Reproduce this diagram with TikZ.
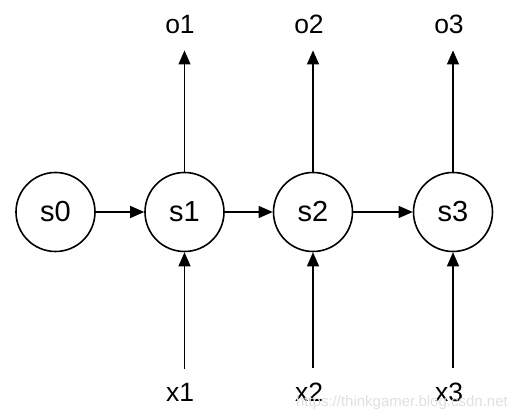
\documentclass[tikz,border=0pt]{standalone}
\usepackage{fontspec}
\setmainfont{Liberation Sans}
\usetikzlibrary{arrows.meta}

\tikzset{
  state/.style={draw, circle, line width=1.6pt, minimum size=79pt, inner sep=0pt, font=\fontsize{29}{32}\selectfont},
  lbl/.style={inner sep=0pt, anchor=base, font=\fontsize{26.5}{30}\selectfont},
  arr/.style={line width=1.3pt, -{Triangle[length=14pt, width=12pt]}}
}

\begin{document}
\begin{tikzpicture}[x=1pt, y=1pt]
    \useasboundingbox (0,0) rectangle (520,420);

    % 状态节点
    \node[state] (s0) at (55.5,208) {s0};
    \node[state] (s1) at (184.5,208) {s1};
    \node[state] (s2) at (313,208) {s2};
    \node[state] (s3) at (453,208) {s3};

    % 输出与输入
    \node[lbl] (o1) at (180,386) {o1};
    \node[lbl] (o2) at (309,386) {o2};
    \node[lbl] (o3) at (449,386) {o3};
    \node[lbl] (x1) at (180,18) {x1};
    \node[lbl] (x2) at (309,18) {x2};
    \node[lbl] (x3) at (449,18) {x3};

    % 状态之间
    \draw[arr] (s0) -- (s1);
    \draw[arr] (s1) -- (s2);
    \draw[arr] (s2) -- (s3);

    % 向上的输出
    \draw[arr, shorten >=16pt] (s1.north) -- (s1.north |- o1.south);
    \draw[arr, shorten >=16pt] (s2.north) -- (s2.north |- o2.south);
    \draw[arr, shorten >=16pt] (s3.north) -- (s3.north |- o3.south);

    % 向上的输入
    \draw[arr, shorten <=15pt] (s1.south |- x1.north) -- (s1.south);
    \draw[arr, shorten <=15pt] (s2.south |- x2.north) -- (s2.south);
    \draw[arr, shorten <=15pt] (s3.south |- x3.north) -- (s3.south);

    % 水印
    \node[inner sep=0pt, anchor=base east, text=black!12, font=\fontsize{15}{18}\selectfont] (wm) at (508,13) {https://thinkgamer.blog.csdn.net};
\end{tikzpicture}
\end{document}
